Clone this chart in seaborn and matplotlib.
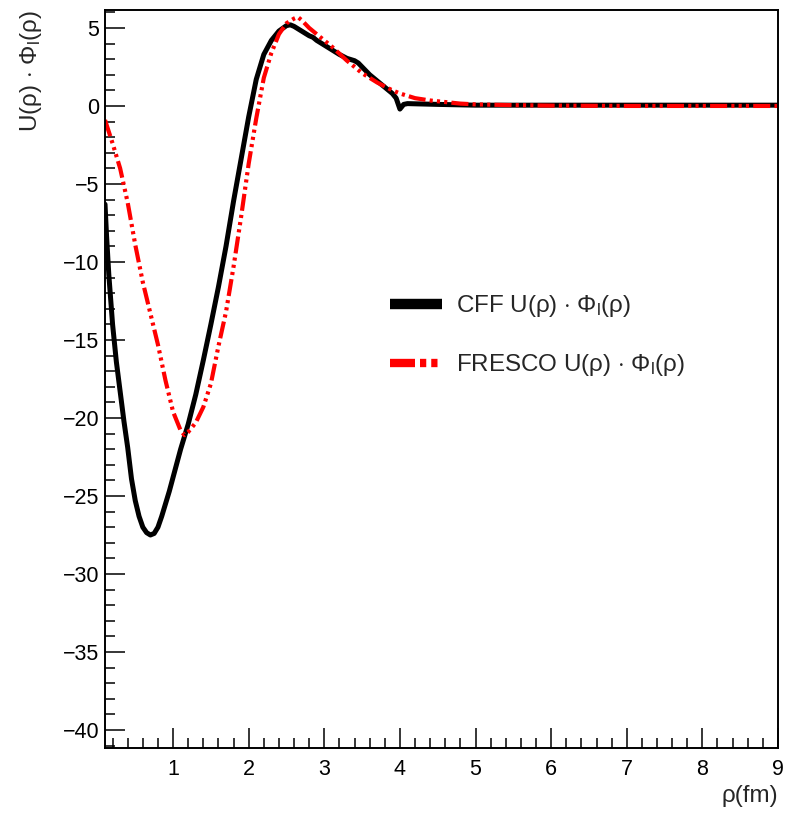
import numpy as np
import pandas as pd
import matplotlib
matplotlib.use("Agg")
import matplotlib.pyplot as plt
from matplotlib.ticker import MultipleLocator
import seaborn as sns

# CFF folded potential U(rho)*Phi_l(rho)
rho_cff = [0.10, 0.12, 0.15, 0.20, 0.25, 0.30, 0.35, 0.40, 0.45, 0.50, 0.55,
           0.60, 0.65, 0.70, 0.75, 0.80, 0.85, 0.90, 0.95, 1.00, 1.05, 1.10,
           1.15, 1.20, 1.30, 1.40, 1.50, 1.60, 1.70, 1.80, 1.90, 2.00, 2.10,
           2.20, 2.30, 2.40, 2.50, 2.55, 2.60, 2.70, 2.80, 2.85, 2.90, 3.00,
           3.10, 3.20, 3.30, 3.40, 3.45, 3.50, 3.60, 3.70, 3.80, 3.90, 3.95,
           4.00, 4.05, 4.10, 4.50, 5.00, 6.00, 7.00, 8.00, 9.00]
u_cff = [-6.3, -8.3, -10.8, -14.0, -16.4, -18.3, -20.2, -21.9, -23.9, -25.3, -26.3,
         -27.0, -27.35, -27.5, -27.4, -27.0, -26.3, -25.5, -24.7, -23.8, -22.9, -22.0,
         -21.2, -20.4, -18.5, -16.3, -14.0, -11.6, -9.0, -6.1, -3.4, -0.7, 1.7,
         3.3, 4.2, 4.8, 5.15, 5.2, 5.1, 4.8, 4.5, 4.4, 4.2, 3.9,
         3.6, 3.3, 3.05, 2.9, 2.75, 2.5, 2.0, 1.6, 1.2, 0.8, 0.5,
         -0.2, 0.1, 0.15, 0.1, 0.05, 0.05, 0.05, 0.05, 0.05]

# FRESCO U(rho)*Phi_l(rho)
rho_fresco = [0.10, 0.20, 0.30, 0.40, 0.50, 0.60, 0.70, 0.80, 0.90, 1.00, 1.10,
              1.15, 1.20, 1.30, 1.40, 1.50, 1.60, 1.70, 1.80, 1.90, 2.00, 2.10,
              2.20, 2.30, 2.40, 2.50, 2.60, 2.65, 2.70, 2.80, 2.90, 3.00, 3.10,
              3.20, 3.30, 3.40, 3.50, 3.60, 3.70, 3.80, 3.90, 4.00, 4.20, 4.40,
              4.60, 4.80, 5.00, 5.50, 6.00, 7.00, 8.00, 9.00]
u_fresco = [-0.9, -2.4, -4.0, -6.2, -8.9, -11.3, -13.3, -15.3, -17.6, -19.6, -20.8,
            -21.1, -20.9, -20.3, -19.3, -17.8, -15.4, -13.2, -10.3, -7.1, -3.7, -0.8,
            1.8, 3.4, 4.6, 5.3, 5.6, 5.7, 5.5, 5.0, 4.6, 4.2, 3.8,
            3.35, 2.9, 2.5, 2.1, 1.8, 1.5, 1.25, 1.0, 0.8, 0.5, 0.35,
            0.25, 0.15, 0.1, 0.05, 0.02, 0.0, 0.0, 0.0]

series_labels = [r"CFF U(ρ) $\cdot$ Φ$_\mathrm{l}$(ρ)",
                 r"FRESCO U(ρ) $\cdot$ Φ$_\mathrm{l}$(ρ)"]
x_label = "ρ(fm)"
y_label = r"U(ρ) $\cdot$ Φ$_\mathrm{l}$(ρ)"

sns.set_style("white")
plt.rcParams["font.family"] = ["Liberation Sans", "DejaVu Sans"]
plt.rcParams["mathtext.fontset"] = "custom"
plt.rcParams["mathtext.rm"] = "Liberation Sans"
plt.rcParams["mathtext.it"] = "Liberation Sans:italic"
plt.rcParams["axes.unicode_minus"] = True

df_cff = pd.DataFrame({"rho": rho_cff, "u": u_cff})
df_fresco = pd.DataFrame({"rho": rho_fresco, "u": u_fresco})

fig = plt.figure(figsize=(7.92, 8.13), dpi=100)
ax = fig.add_axes([0.1326, 0.080, 0.8497, 0.9077])

dashdot3 = (0, (4.1, 1.0, 0.75, 1.0, 0.75, 1.0, 0.75, 1.0))

sns.lineplot(data=df_cff, x="rho", y="u", ax=ax, color="black", lw=3.6,
             estimator=None, sort=False, label=series_labels[0])
sns.lineplot(data=df_fresco, x="rho", y="u", ax=ax, color="#ff0000", lw=3.0,
             linestyle=dashdot3, estimator=None, sort=False,
             label=series_labels[1])

ax.set_xlim(0.1, 9.0)
ax.set_ylim(-41.15, 6.15)

ax.xaxis.set_major_locator(MultipleLocator(1))
ax.xaxis.set_minor_locator(MultipleLocator(0.2))
ax.yaxis.set_major_locator(MultipleLocator(5))
ax.yaxis.set_minor_locator(MultipleLocator(1))

ax.tick_params(which="both", direction="in", top=False, right=False,
               bottom=True, left=True, width=1.1, color="black",
               labelsize=15.5, labelcolor="black")
ax.tick_params(which="major", length=14.4, pad=4)
ax.tick_params(which="minor", length=7.2)
ax.tick_params(axis="x", which="major", pad=8)

for sp in ax.spines.values():
    sp.set_linewidth(1.4)
    sp.set_color("black")
    sp.set_visible(True)

ax.set_xlabel(x_label, fontsize=17.5, loc="right")
ax.xaxis.set_label_coords(1.0, -0.05)
ax.set_ylabel(y_label, fontsize=17.5, loc="top")
ax.yaxis.set_label_coords(-0.09, 1.0)

leg = ax.legend(loc="upper left", bbox_to_anchor=(390 / 792, 1 - 293 / 813),
                bbox_transform=fig.transFigure, frameon=False, fontsize=17.4,
                handlelength=2.17, handletextpad=0.55, labelspacing=1.38,
                borderpad=0, borderaxespad=0)
hl = leg.get_lines()
hl[0].set_linewidth(7.5)
hl[0].set_solid_capstyle("butt")
hl[1].set_linewidth(6.0)
hl[1].set_linestyle((0, (3.0, 0.6, 0.75, 0.6, 0.75, 0.6, 0.75, 0.6)))

fig.savefig("out.png", dpi=100)
